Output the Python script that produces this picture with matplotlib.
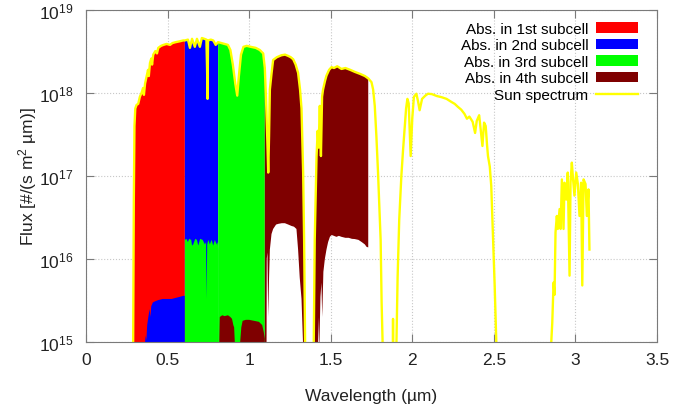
import numpy as np
import matplotlib
matplotlib.use('Agg')
import matplotlib.pyplot as plt
from matplotlib.patches import Patch
from matplotlib.lines import Line2D
from matplotlib.ticker import NullLocator, FuncFormatter

plt.rcParams['font.family'] = ['Liberation Sans', 'DejaVu Sans']
plt.rcParams['mathtext.fontset'] = 'custom'
plt.rcParams['mathtext.rm'] = 'Liberation Sans'
plt.rcParams['mathtext.it'] = 'Liberation Sans:italic'

FLOOR = 1e13  # below the visible axis

# sun spectrum (wavelength in um, flux in #/(s m2 um))
sun_wl = [0.280, 0.289, 0.293, 0.297, 0.302, 0.310, 0.320, 0.330, 0.340, 0.350,
          0.355, 0.362, 0.372, 0.380, 0.385, 0.392, 0.400, 0.405, 0.412, 0.425,
          0.435, 0.443, 0.460, 0.475, 0.494, 0.515, 0.530, 0.550, 0.575, 0.596,
          0.606, 0.625, 0.637, 0.650, 0.667, 0.680, 0.698, 0.710, 0.725, 0.738,
          0.742, 0.745, 0.748, 0.765, 0.780, 0.795, 0.810, 0.830, 0.850, 0.870,
          0.885, 0.900, 0.915, 0.927, 0.937, 0.950, 0.965, 0.985, 1.010, 1.040,
          1.065, 1.086, 1.096, 1.103, 1.112, 1.117, 1.122, 1.127, 1.137, 1.147,
          1.170, 1.198, 1.220, 1.239, 1.255, 1.270, 1.285, 1.300, 1.312, 1.321,
          1.331, 1.337, 1.343, 1.348, 1.390, 1.396, 1.402, 1.408, 1.413, 1.420,
          1.426, 1.433, 1.440, 1.447, 1.453, 1.465, 1.474, 1.490, 1.505, 1.520,
          1.540, 1.566, 1.590, 1.620, 1.647, 1.680, 1.710, 1.730, 1.750, 1.760,
          1.770, 1.780, 1.790, 1.800, 1.806, 1.812, 1.818, 1.822, 1.878, 1.882,
          1.886, 1.897, 1.903, 1.910, 1.920, 1.933, 1.943, 1.953, 1.962, 1.970,
          1.978, 1.990, 2.000, 2.010, 2.025, 2.035, 2.045, 2.060, 2.080, 2.096,
          2.120, 2.150, 2.180, 2.210, 2.240, 2.260, 2.280, 2.300, 2.320, 2.335,
          2.350, 2.370, 2.385, 2.395, 2.410, 2.420, 2.430, 2.440, 2.450, 2.458,
          2.464, 2.475, 2.484, 2.494, 2.505, 2.515, 2.520, 2.845, 2.852, 2.858,
          2.866, 2.872, 2.878, 2.886, 2.892, 2.903, 2.909, 2.917, 2.927, 2.933,
          2.944, 2.953, 2.964, 2.970, 2.978, 2.984, 2.994, 3.005, 3.015, 3.025,
          3.035, 3.042, 3.050, 3.062, 3.070, 3.080, 3.086]
sun_flux = [1e13, 1e15, 5e16, 4.0e17, 6.5e17, 7.2e17, 7.4e17, 9.0e17, 1.0e18, 1.15e18,
            9.5e17, 1.3e18, 1.6e18, 1.9e18, 1.6e18, 2.3e18, 2.6e18, 2.2e18, 2.9e18, 3.2e18,
            3.0e18, 3.5e18, 3.7e18, 3.8e18, 3.9e18, 3.8e18, 4.0e18, 4.1e18, 4.2e18, 4.3e18,
            4.3e18, 4.4e18, 3.5e18, 4.5e18, 3.6e18, 4.5e18, 3.6e18, 4.6e18, 4.5e18, 4.4e18,
            2.0e18, 8.5e17, 4.3e18, 4.4e18, 4.3e18, 3.8e18, 4.1e18, 4.0e18, 3.9e18, 3.8e18,
            3.3e18, 2.2e18, 1.3e18, 9.3e17, 1.6e18, 2.9e18, 3.6e18, 3.7e18, 3.6e18, 3.5e18,
            3.3e18, 3.0e18, 2.0e18, 9.0e17, 2.5e17, 1.1e17, 3.0e17, 1.1e18, 1.7e18, 2.5e18,
            2.7e18, 2.85e18, 2.9e18, 2.8e18, 2.7e18, 2.55e18, 2.2e18, 1.75e18, 1.1e18, 6.5e17,
            1.1e17, 1.7e16, 1e15, 1e13, 1e13, 1e15, 1.7e16, 6e16, 1.7e17, 3.5e17,
            2.2e17, 7e17, 1.74e17, 9e17, 1.1e18, 1.4e18, 1.62e18, 1.9e18, 2.05e18, 2.0e18,
            2.1e18, 1.95e18, 2.0e18, 1.9e18, 1.8e18, 1.7e18, 1.6e18, 1.5e18, 1.35e18, 1.1e18,
            7e17, 3e17, 1.1e17, 3.5e16, 1.7e16, 3e15, 1e15, 1e13, 1e13, 1.9e15,
            1e13, 1e13, 1e15, 6e15, 3e16, 1e17, 2e17, 3.7e17, 6.5e17, 8.5e17,
            7.5e17, 1.74e17, 5e17, 9e17, 9.8e17, 8e17, 6.2e17, 8.5e17, 9.3e17, 9.8e17,
            9.7e17, 9.2e17, 8.9e17, 8.5e17, 7.8e17, 7.4e17, 6.8e17, 6.3e17, 5.6e17, 4.9e17,
            5.2e17, 4.5e17, 3.3e17, 4.6e17, 5.4e17, 3.5e17, 2.3e17, 4.4e17, 4.0e17, 2.4e17,
            1.74e17, 1.3e17, 7.6e16, 2.1e16, 4.8e15, 1e15, 1e13, 1e13, 1e15, 1.7e15,
            5.2e15, 3.7e15, 2.1e16, 3.3e16, 2.3e16, 4.0e16, 2.3e16, 9.1e16, 2.3e16, 8.3e16,
            5.2e16, 1.1e17, 6.3e15, 8.3e16, 1.45e17, 1.0e17, 5.8e16, 1.1e17, 8e16, 3.3e16,
            8.3e16, 4.8e15, 9.1e16, 8e16, 3.3e16, 6.9e16, 1.3e16]

# subcell band edges (um)
edges = [0.289, 0.606, 0.810, 1.096, 1.730]

# 2nd subcell absorption below the 1st subcell band
abs2_wl = [0.358, 0.362, 0.366, 0.370, 0.375, 0.382, 0.390, 0.395, 0.400, 0.410,
           0.425, 0.443, 0.470, 0.500, 0.525, 0.550, 0.575, 0.596, 0.606]
abs2_flux = [1e13, 1e15, 1.2e15, 1.05e15, 1.6e15, 2.0e15, 2.5e15, 2.0e15, 2.7e15, 3.0e15,
             3.1e15, 3.2e15, 3.3e15, 3.3e15, 3.3e15, 3.4e15, 3.5e15, 3.6e15, 3.6e15]

# 3rd subcell absorption below the 2nd subcell band
abs3_wl = [0.606, 0.615, 0.625, 0.632, 0.645, 0.650, 0.657, 0.670, 0.680, 0.688,
           0.700, 0.715, 0.729, 0.736, 0.739, 0.743, 0.750, 0.759, 0.770, 0.780,
           0.790, 0.800, 0.806, 0.812]
abs3_flux = [1.7e16, 1.75e16, 1.6e16, 1.75e16, 1.7e16, 1.45e16, 1.5e16, 1.75e16, 1.7e16, 1.45e16,
             1.75e16, 1.7e16, 1.5e16, 1.6e16, 3.3e15, 1.5e16, 1.7e16, 1.5e16, 1.7e16, 1.45e16,
             1.7e16, 1.5e16, 1.6e16, 1.3e16]

# 4th subcell absorption below the 3rd subcell band
abs4_wl = [0.814, 0.817, 0.820, 0.835, 0.850, 0.870, 0.885, 0.895, 0.903, 0.908,
           0.912, 0.914, 0.940, 0.945, 0.952, 0.960, 0.980, 1.000, 1.030, 1.060,
           1.080, 1.090, 1.096]
abs4_flux = [1e13, 1e15, 2.0e15, 2.1e15, 2.05e15, 2.1e15, 2.0e15, 1.9e15, 1.6e15, 1.5e15,
             1e15, 1e13, 1e13, 1e15, 1.5e15, 1.8e15, 1.85e15, 1.85e15, 1.8e15, 1.75e15,
             1.6e15, 1.3e15, 1.1e15]

# flux left over below the 4th subcell band
rest4_wl = [1.096, 1.104, 1.108, 1.112, 1.117, 1.122, 1.127, 1.137, 1.147, 1.165,
            1.178, 1.200, 1.219, 1.240, 1.260, 1.275, 1.290, 1.300, 1.310, 1.321,
            1.330, 1.335, 1.418, 1.424, 1.430, 1.437, 1.443, 1.448, 1.455, 1.464,
            1.474, 1.484, 1.495, 1.505, 1.520, 1.535, 1.550, 1.566, 1.590, 1.610,
            1.630, 1.647, 1.670, 1.690, 1.709, 1.720, 1.730]
rest4_flux = [1e13, 1e13, 1.0e16, 1.2e16, 2e15, 6e15, 1.3e16, 2.0e16, 2.3e16, 2.6e16,
              2.65e16, 2.7e16, 2.7e16, 2.6e16, 2.5e16, 2.45e16, 2.3e16, 1.3e16, 6e15, 3.3e15,
              1e15, 1e13, 1e13, 2e15, 8e14, 3.5e15, 5.2e15, 2e15, 7e15, 1.0e16,
              1.3e16, 1.6e16, 1.85e16, 1.95e16, 1.9e16, 1.85e16, 1.9e16, 1.85e16, 1.8e16, 1.8e16,
              1.75e16, 1.74e16, 1.7e16, 1.6e16, 1.5e16, 1.4e16, 1.38e16]

labels = ['Abs. in 1st subcell', 'Abs. in 2nd subcell', 'Abs. in 3rd subcell',
          'Abs. in 4th subcell', 'Sun spectrum']
colors = ['#ff0000', '#0000ff', '#00ff00', '#7f0000']
sun_color = '#ffff00'

wl = np.array(sun_wl)
fl = np.array(sun_flux)

fig = plt.figure(figsize=(6.97, 4.14), dpi=100)
ax = fig.add_axes([0.1234, 0.1715, 0.8192, 0.8019])
ax.set_yscale('log')


def band(a, b, bottom_wl=None, bottom_flux=None, color='k'):
    m = (wl >= a) & (wl <= b)
    xs, ys = wl[m], fl[m]
    if bottom_wl is None:
        px = np.concatenate([xs, [b, a]])
        py = np.concatenate([ys, [FLOOR, FLOOR]])
    else:
        px = np.concatenate([xs, np.array(bottom_wl)[::-1]])
        py = np.concatenate([ys, np.array(bottom_flux)[::-1]])
    ax.fill(px, py, color=color, lw=0, zorder=2)


def patch(x, y, color):
    x = np.array(x); y = np.array(y)
    px = np.concatenate([x, [x[-1], x[0]]])
    py = np.concatenate([y, [FLOOR, FLOOR]])
    ax.fill(px, py, color=color, lw=0, zorder=3)


band(edges[0], edges[1], color=colors[0])
band(edges[1], edges[2], color=colors[1])
band(edges[2], edges[3], color=colors[2])
band(edges[3], edges[4], rest4_wl, rest4_flux, color=colors[3])

patch(abs2_wl, abs2_flux, colors[1])
patch(abs3_wl, abs3_flux, colors[2])
patch(abs4_wl, abs4_flux, colors[3])

ax.plot(wl, fl, color=sun_color, lw=1.7, zorder=4)

ax.set_xlim(0, 3.5)
ax.set_ylim(1e15, 1e19)
ax.set_xticks([0, 0.5, 1, 1.5, 2, 2.5, 3, 3.5])
ax.xaxis.set_major_formatter(FuncFormatter(lambda v, p: '%g' % v))
ax.yaxis.set_minor_locator(NullLocator())

ax.grid(True, ls=':', color='#c8c8c8', lw=0.8, zorder=0)
ax.set_axisbelow(True)
for s in ax.spines.values():
    s.set_color('#7a7a7a')
    s.set_zorder(5)
ax.tick_params(which='both', direction='in', top=True, right=True, length=6,
               color='#7a7a7a', labelsize=12.5, labelcolor='#222222')
ax.tick_params(axis='x', pad=7)
ax.tick_params(axis='y', pad=9)

ax.set_xlabel('Wavelength (\u00b5m)', fontsize=12.5, color='#222222', labelpad=15)
ax.set_ylabel('Flux [#/(s m$^2$ \u00b5m)]', fontsize=12.5, color='#222222', labelpad=0)

handles = [Patch(facecolor=c, edgecolor='none') for c in colors]
handles.append(Line2D([], [], color=sun_color, lw=1.7))
ax.legend(handles, labels, loc='upper right', bbox_to_anchor=(0.967, 0.965),
          frameon=False, markerfirst=False, fontsize=11, labelspacing=0.17,
          handlelength=2.75, handletextpad=0.5, borderaxespad=0, borderpad=0)

fig.savefig('out.png', dpi=100)
